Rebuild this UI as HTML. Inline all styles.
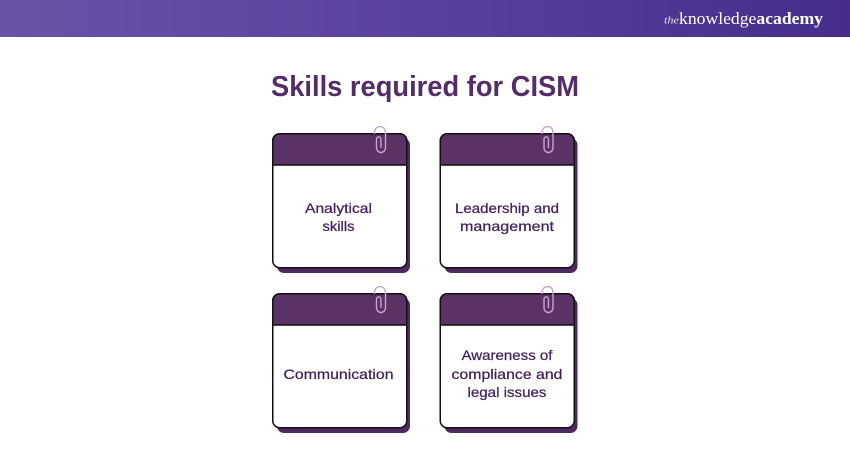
<!DOCTYPE html>
<html><head><meta charset="utf-8"><style>
html,body{margin:0;padding:0;background:#fff;width:850px;height:450px;overflow:hidden}
svg{display:block}
text{font-family:"Liberation Sans",sans-serif}
.t{font-size:14px;fill:#44215c;text-anchor:middle;stroke:#44215c;stroke-width:.25px}
</style></head><body>
<svg width="850" height="450" viewBox="0 0 850 450" xmlns="http://www.w3.org/2000/svg">
<defs>
<linearGradient id="h" x1="0" x2="1" y1="0" y2="0"><stop offset="0" stop-color="#6a52a8"/><stop offset=".4" stop-color="#5d44a0"/><stop offset=".75" stop-color="#4f3793"/><stop offset="1" stop-color="#472c8c"/></linearGradient>
<g id="card">
<rect x="5" y="5" width="133" height="135" rx="7" fill="#4f2a62"/>
<rect x="0.75" y="0.75" width="134" height="134" rx="7" fill="#fff" stroke="#111" stroke-width="1.5"/>
<path d="M0.75 32V7.75a7 7 0 0 1 7-7H127.75a7 7 0 0 1 7 7V32Z" fill="#5a3265" stroke="#111" stroke-width="1.5"/>
<path d="M102.500 1V-1a5.500 5.500 0 0 1 11 0V15a4.500 4.500 0 0 1-9 0V6a2.200 2.200 0 0 1 4.400 0V15" fill="none" stroke="#c7a6cf" stroke-width="1.400"/>
</g>
</defs>
<rect width="850" height="37" fill="url(#h)"/>
<text x="664" y="23.500" font-size="10" fill="#e6e0f0" style="font-family:'Liberation Serif',serif;font-style:italic" textLength="15" lengthAdjust="spacingAndGlyphs">the</text>
<text x="679" y="24" font-size="17" fill="#fff" style="font-family:'Liberation Serif',serif" textLength="144" lengthAdjust="spacingAndGlyphs">knowledge<tspan font-weight="bold">academy</tspan></text>
<text x="425" y="96" font-size="29" font-weight="bold" fill="#532c68" text-anchor="middle" textLength="308" lengthAdjust="spacingAndGlyphs">Skills required for CISM</text>
<use href="#card" x="272" y="133"/>
<use href="#card" x="439.500" y="133"/>
<use href="#card" x="272" y="293"/>
<use href="#card" x="439.500" y="293"/>
<text class="t" x="338.500" y="213" textLength="67" lengthAdjust="spacingAndGlyphs">Analytical</text>
<text class="t" x="338.500" y="231" textLength="32" lengthAdjust="spacingAndGlyphs">skills</text>
<text class="t" x="507" y="213" textLength="104" lengthAdjust="spacingAndGlyphs">Leadership and</text>
<text class="t" x="507" y="231" textLength="94" lengthAdjust="spacingAndGlyphs">management</text>
<text class="t" x="338.500" y="379" textLength="110" lengthAdjust="spacingAndGlyphs">Communication</text>
<text class="t" x="507" y="360" textLength="91" lengthAdjust="spacingAndGlyphs">Awareness of</text>
<text class="t" x="507" y="379" textLength="111" lengthAdjust="spacingAndGlyphs">compliance and</text>
<text class="t" x="507" y="397" textLength="79" lengthAdjust="spacingAndGlyphs">legal issues</text>
</svg>
</body></html>
